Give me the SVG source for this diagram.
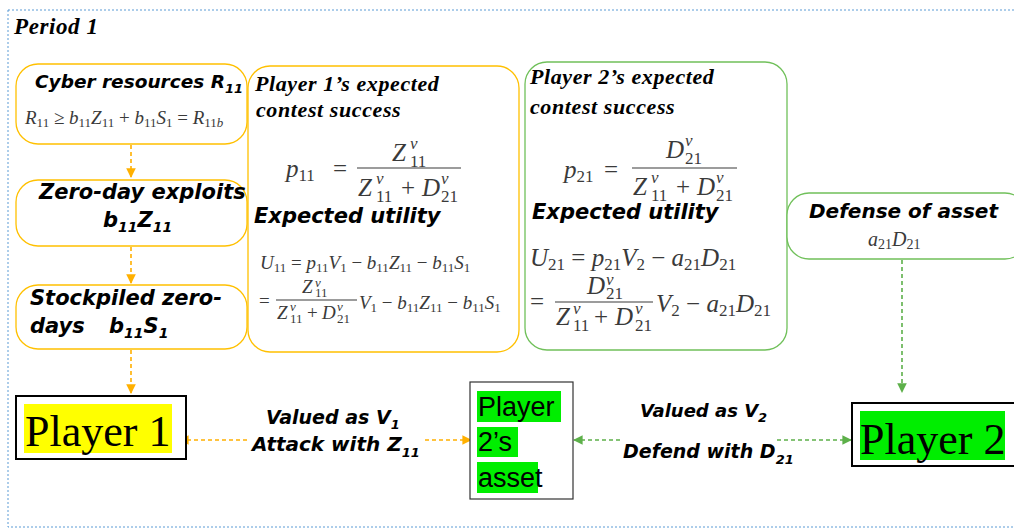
<svg xmlns="http://www.w3.org/2000/svg" width="1014" height="529" viewBox="0 0 1014 529">
<style>
.frame{fill:none;stroke:#5B9BD5;stroke-width:1;stroke-dasharray:2 2}
.ybox{fill:#fff;stroke:#FFC000;stroke-width:1.3}
.gbox{fill:#fff;stroke:#70C05A;stroke-width:1.3}
.head{font-family:"DejaVu Sans","Open Sans",sans-serif;font-weight:bold;font-style:italic;fill:#000}
.sh{font-family:"Liberation Serif",serif;font-weight:bold;font-style:italic;fill:#000;letter-spacing:0.6px}
.m{font-family:"Liberation Serif","DejaVu Serif",serif;fill:#3a3a3a}
.mi{font-style:italic}
.big{font-family:"Liberation Serif",serif;font-size:44px;fill:#000}
.asset{font-family:"Liberation Sans",Arial,sans-serif;font-size:27px;fill:#000}
.oline{stroke:#FFB000;stroke-width:1.6;stroke-dasharray:4 3;fill:none}
.gline{stroke:#5DB04A;stroke-width:1.6;stroke-dasharray:4 3;fill:none}
.fl{stroke:#3a3a3a;stroke-width:1.2}
</style>
<defs>
<marker id="ao" viewBox="0 0 10 10" refX="9" refY="5" markerWidth="6" markerHeight="6" orient="auto-start-reverse"><path d="M0,0 L10,5 L0,10 z" fill="#FFB000"/></marker>
<marker id="ag" viewBox="0 0 10 10" refX="9" refY="5" markerWidth="6" markerHeight="6" orient="auto-start-reverse"><path d="M0,0 L10,5 L0,10 z" fill="#5DB04A"/></marker>
</defs>
<rect width="1014" height="529" fill="#fff"/>
<rect class="frame" x="8" y="10" width="1020" height="517"/>
<text class="sh" x="14" y="34" font-size="23" letter-spacing="1">Period 1</text>

<g id="connectors">
<line class="oline" x1="131" y1="145" x2="131" y2="177" marker-end="url(#ao)"/>
<line class="oline" x1="131" y1="247" x2="131" y2="283" marker-end="url(#ao)"/>
<line class="oline" x1="131" y1="350" x2="131" y2="393" marker-end="url(#ao)"/>
<line class="gline" x1="902" y1="260" x2="902" y2="392" marker-end="url(#ag)"/>
<line class="oline" x1="180" y1="440" x2="471" y2="440" marker-start="url(#ao)" marker-end="url(#ao)"/>
<line class="gline" x1="574" y1="440" x2="851" y2="440" marker-start="url(#ag)" marker-end="url(#ag)"/>
<rect x="250" y="402" width="172" height="62" fill="#fff"/>
<rect x="621" y="398" width="154" height="70" fill="#fff"/>
<text class="head" font-size="19" x="266" y="424">Valued as V<tspan font-size="13" dy="5">1</tspan></text>
<text class="head" font-size="20" x="252" y="451">Attack with Z<tspan font-size="13" dy="6">11</tspan></text>
<text class="head" font-size="18" x="640" y="417">Valued as V<tspan font-size="13" dy="5">2</tspan></text>
<text class="head" font-size="19" x="623" y="458">Defend with D<tspan font-size="13" dy="6">21</tspan></text>
</g>

<g id="cyber">
<rect class="ybox" x="16" y="64" width="231" height="80" rx="22"/>
<text class="head" font-size="18.5" x="35" y="88">Cyber resources R<tspan font-size="13" dy="5">11</tspan></text>
<text class="m" font-size="19" x="25" y="124"><tspan class="mi">R</tspan><tspan font-size="13" dy="3">11</tspan><tspan dy="-3"> ≥ </tspan><tspan class="mi">b</tspan><tspan font-size="13" dy="3">11</tspan><tspan class="mi" dy="-3">Z</tspan><tspan font-size="13" dy="3">11</tspan><tspan dy="-3"> + </tspan><tspan class="mi">b</tspan><tspan font-size="13" dy="3">11</tspan><tspan class="mi" dy="-3">S</tspan><tspan font-size="13" dy="3">1</tspan><tspan dy="-3"> = </tspan><tspan class="mi">R</tspan><tspan font-size="13" dy="3">11</tspan><tspan font-size="13" class="mi">b</tspan></text>
</g>

<g id="zeroday">
<rect class="ybox" x="16" y="180" width="231" height="66" rx="22"/>
<text class="head" font-size="21" x="39" y="199">Zero-day exploits</text>
<text class="head" font-size="21" x="103" y="227">b<tspan font-size="14" dy="5">11</tspan><tspan dy="-5">Z</tspan><tspan font-size="14" dy="5">11</tspan></text>
</g>

<g id="stockpiled">
<rect class="ybox" x="16" y="285" width="231" height="64" rx="22"/>
<text class="head" font-size="21" x="30" y="305">Stockpiled zero-</text>
<text class="head" font-size="21" x="30" y="333">days<tspan x="109">b</tspan><tspan font-size="14" dy="5">11</tspan><tspan dy="-5">S</tspan><tspan font-size="14" dy="5">1</tspan></text>
</g>

<g id="player1">
<rect x="16" y="396" width="170" height="63" fill="#fff" stroke="#000" stroke-width="2"/>
<rect x="24" y="404" width="148" height="49" fill="#FFFF00"/>
<text class="big" x="25" y="446">Player 1</text>
</g>

<g id="p1success">
<rect class="ybox" x="248" y="66" width="271" height="286" rx="22"/>
<text class="sh" font-size="22" x="255" y="91">Player 1’s expected</text>
<text class="sh" font-size="22" x="256" y="117">contest success</text>
<text class="m" font-size="25" x="286" y="177"><tspan class="mi">p</tspan><tspan font-size="17" dy="4">11</tspan><tspan x="333" dy="-4">=</tspan></text>
<text class="m" font-size="25" x="392" y="161"><tspan class="mi">Z</tspan><tspan class="mi" font-size="17" x="410" y="149">v</tspan><tspan font-size="17" x="410" y="167">11</tspan></text>
<line class="fl" x1="357" y1="168" x2="461" y2="168"/>
<text class="m" font-size="25" x="358" y="196"><tspan class="mi">Z</tspan><tspan class="mi" font-size="17" x="376" y="184">v</tspan><tspan font-size="17" x="376" y="202">11</tspan><tspan x="401" y="196">+</tspan><tspan class="mi" x="422">D</tspan><tspan class="mi" font-size="17" x="441" y="184">v</tspan><tspan font-size="17" x="441" y="202">21</tspan></text>
<text class="head" font-size="21" x="254" y="223">Expected utility</text>
<text class="m" font-size="19" x="260" y="269"><tspan class="mi">U</tspan><tspan font-size="13" dy="3">11</tspan><tspan dy="-3"> = </tspan><tspan class="mi">p</tspan><tspan font-size="13" dy="3">11</tspan><tspan class="mi" dy="-3">V</tspan><tspan font-size="13" dy="3">1</tspan><tspan dy="-3"> − </tspan><tspan class="mi">b</tspan><tspan font-size="13" dy="3">11</tspan><tspan class="mi" dy="-3">Z</tspan><tspan font-size="13" dy="3">11</tspan><tspan dy="-3"> − </tspan><tspan class="mi">b</tspan><tspan font-size="13" dy="3">11</tspan><tspan class="mi" dy="-3">S</tspan><tspan font-size="13" dy="3">1</tspan></text>
<text class="m" font-size="19" x="259" y="307">=</text>
<text class="m" font-size="19" x="302" y="293"><tspan class="mi">Z</tspan><tspan class="mi" font-size="13" x="315" y="287">v</tspan><tspan font-size="13" x="315" y="297">11</tspan></text>
<line class="fl" x1="276" y1="300" x2="357" y2="300" stroke-width="1"/>
<text class="m" font-size="19" x="277" y="319"><tspan class="mi">Z</tspan><tspan class="mi" font-size="13" x="290" y="311">v</tspan><tspan font-size="13" x="290" y="323">11</tspan><tspan x="307" y="319">+</tspan><tspan class="mi" x="322">D</tspan><tspan class="mi" font-size="13" x="337" y="311">v</tspan><tspan font-size="13" x="337" y="323">21</tspan></text>
<text class="m" font-size="19" x="359" y="309"><tspan class="mi">V</tspan><tspan font-size="13" dy="3">1</tspan><tspan dy="-3"> − </tspan><tspan class="mi">b</tspan><tspan font-size="13" dy="3">11</tspan><tspan class="mi" dy="-3">Z</tspan><tspan font-size="13" dy="3">11</tspan><tspan dy="-3"> − </tspan><tspan class="mi">b</tspan><tspan font-size="13" dy="3">11</tspan><tspan class="mi" dy="-3">S</tspan><tspan font-size="13" dy="3">1</tspan></text>
</g>

<g id="p2success">
<rect class="gbox" x="525" y="62" width="262" height="288" rx="22"/>
<text class="sh" font-size="22" x="530" y="84">Player 2’s expected</text>
<text class="sh" font-size="22" x="530" y="114">contest success</text>
<text class="m" font-size="25" x="564" y="178"><tspan class="mi">p</tspan><tspan font-size="17" dy="4">21</tspan><tspan x="604" dy="-4">=</tspan></text>
<text class="m" font-size="25" x="666" y="158"><tspan class="mi">D</tspan><tspan class="mi" font-size="17" x="685" y="146">v</tspan><tspan font-size="17" x="685" y="164">21</tspan></text>
<line class="fl" x1="632" y1="168" x2="737" y2="168"/>
<text class="m" font-size="25" x="633" y="195"><tspan class="mi">Z</tspan><tspan class="mi" font-size="17" x="651" y="183">v</tspan><tspan font-size="17" x="651" y="201">11</tspan><tspan x="676" y="195">+</tspan><tspan class="mi" x="697">D</tspan><tspan class="mi" font-size="17" x="716" y="183">v</tspan><tspan font-size="17" x="716" y="201">21</tspan></text>
<text class="head" font-size="21" x="532" y="219">Expected utility</text>
<text class="m" font-size="25" x="530" y="266"><tspan class="mi">U</tspan><tspan font-size="17" dy="4">21</tspan><tspan dy="-4"> = </tspan><tspan class="mi">p</tspan><tspan font-size="17" dy="4">21</tspan><tspan class="mi" dy="-4">V</tspan><tspan font-size="17" dy="4">2</tspan><tspan dy="-4"> − </tspan><tspan class="mi">a</tspan><tspan font-size="17" dy="4">21</tspan><tspan class="mi" dy="-4">D</tspan><tspan font-size="17" dy="4">21</tspan></text>
<text class="m" font-size="25" x="530" y="310">=</text>
<text class="m" font-size="25" x="587" y="294"><tspan class="mi">D</tspan><tspan class="mi" font-size="17" x="606" y="285">v</tspan><tspan font-size="17" x="606" y="299">21</tspan></text>
<line class="fl" x1="555" y1="302" x2="653" y2="302"/>
<text class="m" font-size="25" x="556" y="325"><tspan class="mi">Z</tspan><tspan class="mi" font-size="17" x="573" y="314">v</tspan><tspan font-size="17" x="573" y="331">11</tspan><tspan x="594" y="325">+</tspan><tspan class="mi" x="615">D</tspan><tspan class="mi" font-size="17" x="635" y="314">v</tspan><tspan font-size="17" x="635" y="331">21</tspan></text>
<text class="m" font-size="25" x="656" y="312"><tspan class="mi">V</tspan><tspan font-size="17" dy="4">2</tspan><tspan dy="-4"> − </tspan><tspan class="mi">a</tspan><tspan font-size="17" dy="4">21</tspan><tspan class="mi" dy="-4">D</tspan><tspan font-size="17" dy="4">21</tspan></text>
</g>

<g id="defense">
<rect class="gbox" x="787" y="193" width="240" height="66" rx="22"/>
<text class="head" font-size="20" x="809" y="218">Defense of asset</text>
<text class="m" font-size="20" x="868" y="246"><tspan class="mi">a</tspan><tspan font-size="14" dy="3">21</tspan><tspan class="mi" dy="-3">D</tspan><tspan font-size="14" dy="3">21</tspan></text>
</g>

<g id="asset">
<rect x="470" y="382" width="103" height="117" fill="#fff" stroke="#333" stroke-width="1.2"/>
<rect x="477" y="391" width="84" height="31" fill="#00EE00"/>
<rect x="477" y="427" width="41" height="30" fill="#00EE00"/>
<rect x="477" y="462" width="61" height="31" fill="#00EE00"/>
<text class="asset" x="478" y="416">Player</text>
<text class="asset" x="478" y="451">2’s</text>
<text class="asset" x="478" y="487">asset</text>
</g>

<g id="player2">
<rect x="852" y="403" width="170" height="63" fill="#fff" stroke="#000" stroke-width="2"/>
<rect x="860" y="411" width="145" height="49" fill="#00EE00"/>
<text class="big" x="860" y="454">Player 2</text>
</g>
</svg>
